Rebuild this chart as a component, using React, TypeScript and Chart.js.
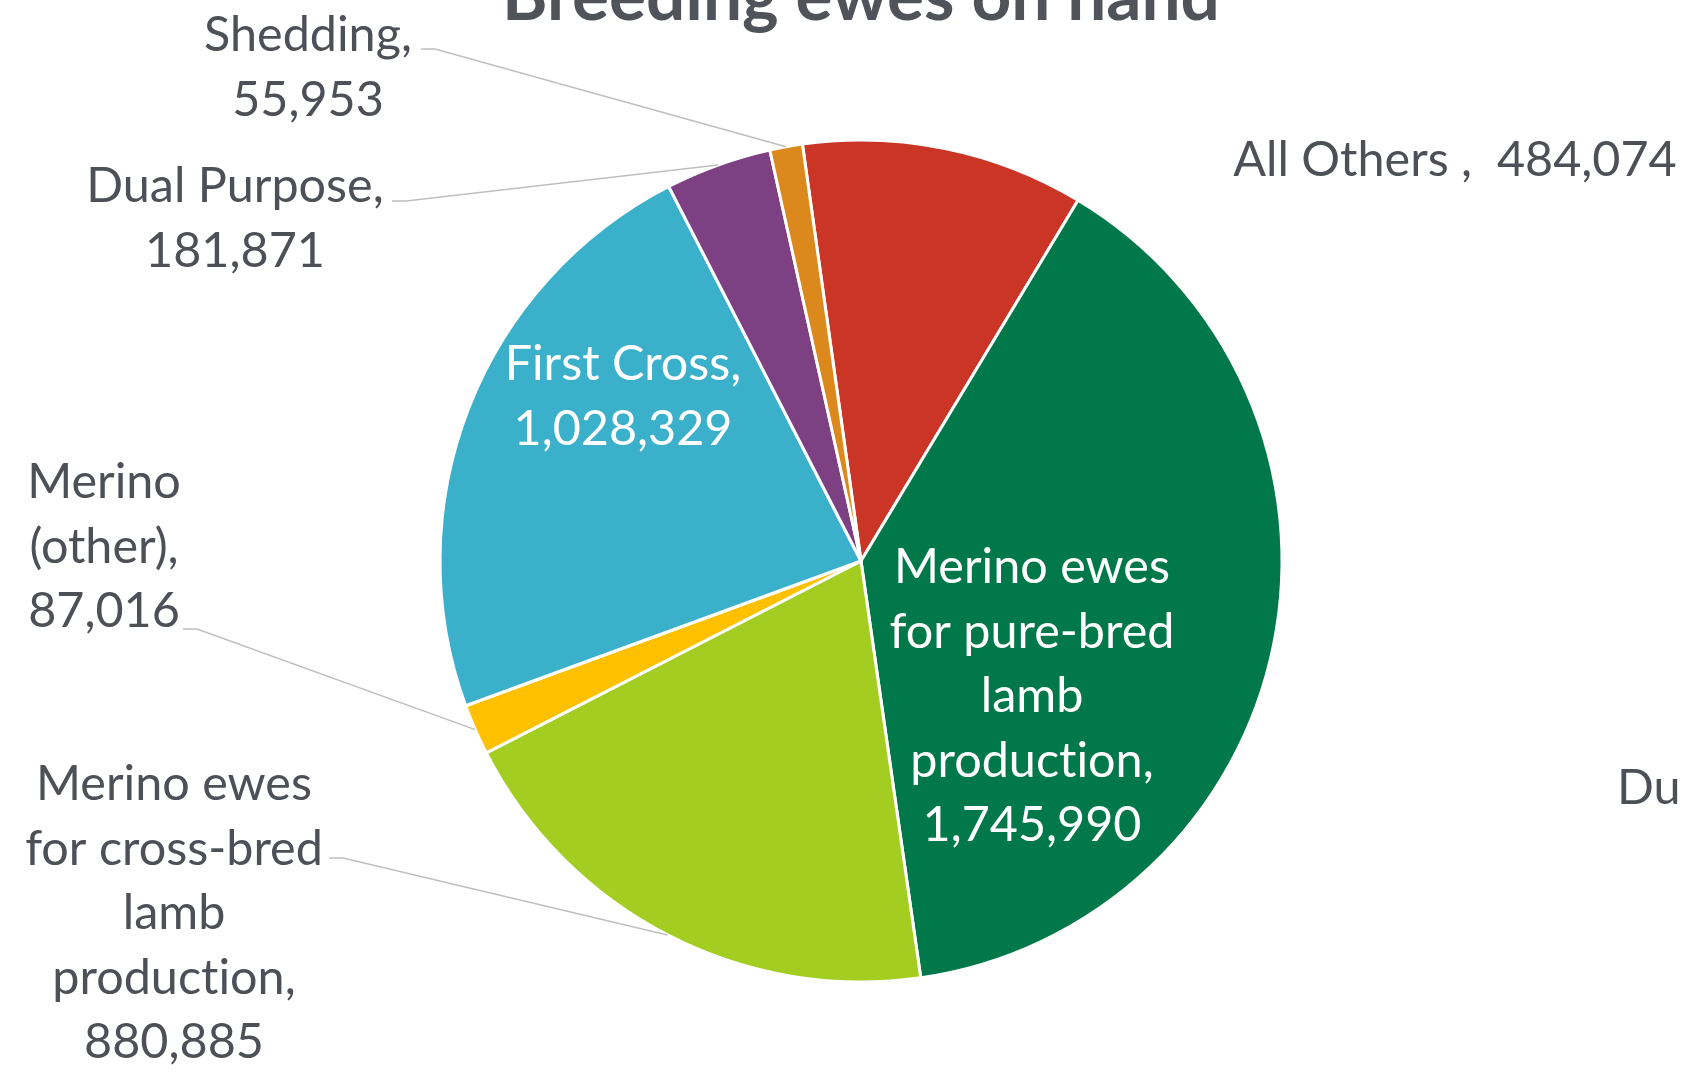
import React, { useEffect, useRef } from "react";
import { Chart, registerables } from "chart.js";

Chart.register(...registerables);

// ---- data ----
const TITLE = "Breeding ewes on hand";
const categories = [
  "All Others ",
  "Merino ewes for pure-bred lamb production",
  "Merino ewes for cross-bred lamb production",
  "Merino (other)",
  "First Cross",
  "Dual Purpose",
  "Shedding",
];
const values = [484074, 1745990, 880885, 87016, 1028329, 181871, 55953];
const colors = ["#CB3526", "#00784A", "#A3CD21", "#FFC000", "#3BB0CB", "#7C4083", "#DB891C"];

// label text templates ("|" = line break, {v} = value)
const labelTemplates = [
  "All Others ,  {v}",
  "Merino ewes|for pure-bred|lamb|production,|{v}",
  "Merino ewes|for cross-bred|lamb|production,|{v}",
  "Merino|(other),|{v}",
  "First Cross,|{v}",
  "Dual Purpose,|{v}",
  "Shedding,|{v}",
];
const labelInside = [false, true, false, false, true, false, false];

// ---- layout (label placement) ----
const labelCenterX = [1455, 1032, 174, 104, 623, 235, 308];
const labelFirstBaseline = [176, 583, 800, 498, 380, 202, 51];
const leaderStart: (null | [number, number])[] = [
  null,
  null,
  [329, 858],
  [183, 629],
  null,
  [392, 201],
  [421, 49],
];
const LINE_H = 64.5;
const TEXT_COLOR = "#4D5057";

const fmt = (v: number) => v.toLocaleString("en-US");
// break the "ti" ligature of the substitute font (a zero-width non-joiner)
const noLig = (s: string) => s.replace(/ti/g, "t\u200Ci");

const labelPlugin = {
  id: "excelLabels",
  afterDraw(chart: any) {
    const ctx: any = chart.ctx;
    ctx.save();
    // fit fonts
    ctx.font = "100px Lato";
    const labelSize = (100 * 276) / ctx.measureText("Merino ewes").width;
    ctx.font = "bold 100px Lato";
    const titleSize = (100 * 718) / ctx.measureText(TITLE).width;

    // title
    ctx.fillStyle = "#505359";
    ctx.textAlign = "center";
    ctx.textBaseline = "alphabetic";
    ctx.font = `bold ${titleSize}px Lato`;
    ctx.fillText(TITLE, 861, 20);

    const meta = chart.getDatasetMeta(0);
    ctx.font = `${labelSize}px Lato`;
    meta.data.forEach((arc: any, i: number) => {
      const p = arc.getProps(["x", "y", "startAngle", "endAngle", "outerRadius"], true);
      const mid = (p.startAngle + p.endAngle) / 2;
      const ls = leaderStart[i];
      if (ls) {
        const ex = p.x + Math.cos(mid) * p.outerRadius;
        const ey = p.y + Math.sin(mid) * p.outerRadius;
        ctx.strokeStyle = "#BFBFBF";
        ctx.lineWidth = 1.5;
        ctx.beginPath();
        ctx.moveTo(ls[0], ls[1]);
        ctx.lineTo(ls[0] + 14, ls[1]);
        ctx.lineTo(ex, ey);
        ctx.stroke();
      }
      const lines = labelTemplates[i].replace("{v}", fmt(values[i])).split("|");
      ctx.fillStyle = labelInside[i] ? "#FFFFFF" : TEXT_COLOR;
      ctx.textAlign = "center";
      lines.forEach((ln: string, k: number) => {
        ctx.fillText(noLig(ln), labelCenterX[i], labelFirstBaseline[i] + k * LINE_H);
      });
    });

    // partially visible label from neighbouring chart
    ctx.fillStyle = TEXT_COLOR;
    ctx.textAlign = "left";
    ctx.fillText("Du", 1617, 804);
    ctx.restore();
  },
};

export default function App() {
  const ref = useRef<HTMLCanvasElement>(null);
  useEffect(() => {
    if (!ref.current) return;
    const chart = new Chart(ref.current, {
      type: "pie",
      data: {
        labels: categories,
        datasets: [
          {
            data: values,
            backgroundColor: colors,
            borderColor: "#FFFFFF",
            borderWidth: 3,
            radius: 421,
          } as any,
        ],
      },
      options: {
        responsive: false,
        animation: false,
        devicePixelRatio: 1,
        rotation: -8,
        layout: { padding: { left: 440, right: 399, top: 140, bottom: 94 } },
        plugins: {
          legend: { display: false },
          tooltip: { enabled: false },
          title: { display: false },
        },
      },
      plugins: [labelPlugin],
    });
    return () => chart.destroy();
  }, []);
  return (
    <div style={{ position: "fixed", left: 0, top: 0, width: 1681, height: 1076, overflow: "hidden", background: "#fff" }}>
      <canvas ref={ref} width={1681} height={1076} style={{ display: "block" }} />
    </div>
  );
}
